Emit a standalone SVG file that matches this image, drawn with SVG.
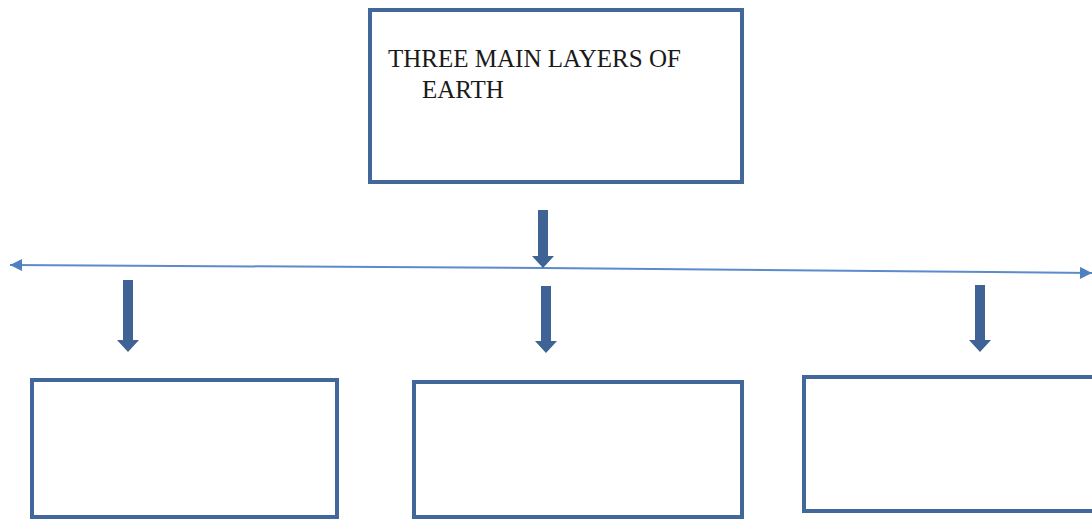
<svg xmlns="http://www.w3.org/2000/svg" width="1092" height="520" viewBox="0 0 1092 520">
  <defs>
    <style>
      .box { fill: #ffffff; stroke: #41679b; stroke-width: 4; }
      .hline { stroke: #5b8bcb; stroke-width: 2; fill: none; }
      .down { fill: #3e6394; }
    </style>
    <marker id="tri" viewBox="0 0 10 10" refX="10" refY="5" markerWidth="8" markerHeight="6" markerUnits="strokeWidth" orient="auto">
      <path d="M0,0 L10,5 L0,10 Z" fill="#4e80c0"/>
    </marker>
  </defs>
  <rect width="1092" height="520" fill="#ffffff"/>

  <g id="node-top">
    <rect class="box" x="370" y="10" width="372" height="172"/>
    <g font-family="'Liberation Serif', 'Times New Roman', serif" font-size="25" fill="#1a1a1a">
      <text x="388" y="67">THREE MAIN LAYERS OF</text>
      <text x="422" y="98">EARTH</text>
    </g>
  </g>

  <g id="node-left">
    <rect class="box" x="32" y="380" width="305" height="137"/>
  </g>
  <g id="node-middle">
    <rect class="box" x="414" y="382" width="328" height="135"/>
  </g>
  <g id="node-right">
    <rect class="box" x="804" y="377" width="300" height="134"/>
  </g>

  <g id="connectors">
    <line class="hline" x1="543" y1="268" x2="10" y2="265" marker-end="url(#tri)"/>
    <line class="hline" x1="543" y1="268" x2="1092" y2="273" marker-end="url(#tri)"/>
    <path class="down" d="M538,210 L548,210 L548,256 L554,256 L543,268 L532,256 L538,256 Z"/>
    <path class="down" d="M123,280 L133,280 L133,340 L139,340 L128,352 L117,340 L123,340 Z"/>
    <path class="down" d="M541,286 L551,286 L551,341 L557,341 L546,353 L535,341 L541,341 Z"/>
    <path class="down" d="M975,285 L985,285 L985,340 L991,340 L980,352 L969,340 L975,340 Z"/>
  </g>
</svg>
